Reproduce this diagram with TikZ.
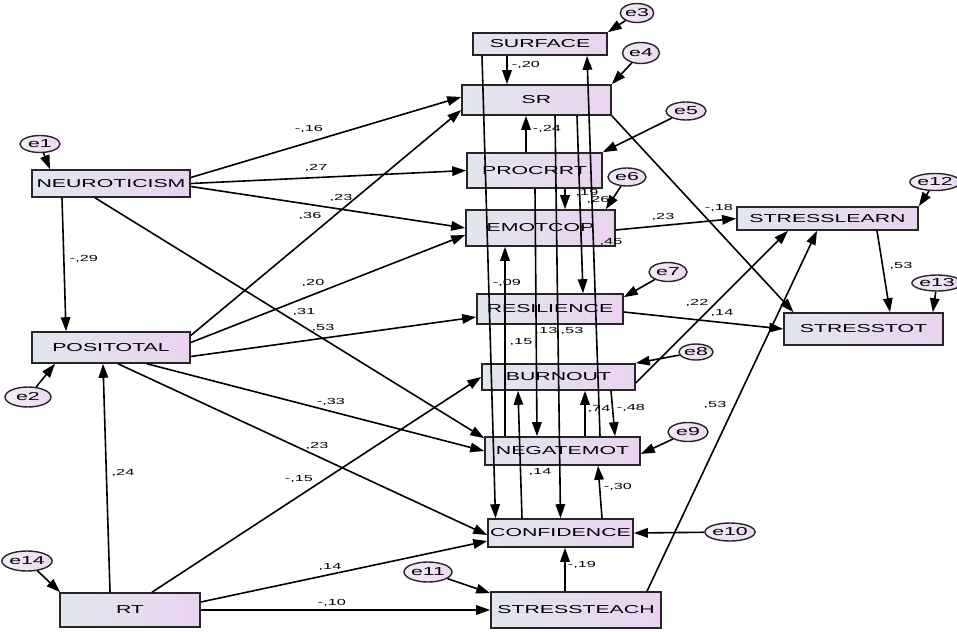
\documentclass[tikz,border=0pt]{standalone}
\usepackage{fontspec}
\setmainfont{Liberation Sans}[FakeStretch=1.85]
\usepackage{tikz}
\usetikzlibrary{arrows.meta,shapes.geometric}

\definecolor{boxleft}{HTML}{E2E6EE}
\definecolor{boxright}{HTML}{EAD3F0}
\definecolor{errfill}{HTML}{EBD8F1}

\tikzset{
  every variable/.style={rectangle, draw=black!85, line width=1.6pt,
    left color=boxleft, right color=boxright, inner sep=0pt,
    font=\fontsize{11.5}{13}\selectfont},
  every error/.style={ellipse, draw=black!85, line width=1.4pt,
    left color=white!50!errfill, right color=errfill, inner sep=0pt,
    font=\fontsize{11.5}{13}\selectfont},
  coef/.style={inner sep=0pt, font=\fontsize{8.8}{10}\selectfont}
}

\begin{document}
\begin{tikzpicture}[x=1pt, y=-1pt, line width=1.6pt,
  >={Triangle[length=14pt,width=9.5pt]}]
\useasboundingbox (0,0) rectangle (957,631);

\foreach \n/\t/\x/\y/\w/\h in {
    surface/SURFACE/540/44/134/22,
    sr/SR/536.5/100/149/30,
    procrrt/PROCRRT/534.5/170.5/135/35,
    emotcop/EMOTCOP/540.5/228/149/36,
    resilience/RESILIENCE/550/309/146/30,
    burnout/BURNOUT/558.5/377/153/26,
    negatemot/NEGATEMOT/562.5/451/155/28,
    confidence/CONFIDENCE/560.5/533/145/28,
    stressteach/STRESSTEACH/576/610/170/36,
    neuro/NEUROTICISM/111/183.5/158/27,
    positotal/POSITOTAL/111/347.5/158/31,
    rt/RT/130/610/140/34,
    stresslearn/STRESSLEARN/827.5/218.5/181/23,
    stresstot/STRESSTOT/863.5/329/159/32}
  \node [every variable/.try, minimum width=\w pt, minimum height=\h pt]
    (\n) at (\x,\y) {\t};

\foreach \n/\x/\y/\w/\h in {
    1/40/144/40/17, 2/28/397/46/20, 3/637/13/33/19, 4/641/53/37/21,
    5/686/111/40/18, 6/627/177/38/18, 7/668/272/38/19, 8/696/352/34/16,
    9/688/432/40/19, 10/730/532/42/18, 11/428/572/48/20, 12/935/182/42/17,
    13/937/283/36/16, 14/27/561/50/20}
  \node [every error/.try, minimum width=\w pt, minimum height=\h pt]
    (e\n) at (\x,\y) {e\n};

% residuals
\draw [->] (e1) -- ([xshift=-61pt]neuro.north);
\draw [->] (e2) -- ([xshift=-56pt]positotal.south);
\draw [->] (e14) -- ([xshift=1pt]rt.north west);
\draw [->] (e3) -- (surface.north east);
\draw [->] (e4) -- (sr.north east);
\draw [->] (e5) -- (procrrt.north east);
\draw [->] (e6) -- ([xshift=-10pt]emotcop.north east);
\draw [->] (e7) -- ([yshift=-4pt]resilience.north east);
\draw [->] (e8) -- (burnout.north east);
\draw [->] (e9) -- ([yshift=-3pt]negatemot.east);
\draw [->] (e10) -- (confidence.east);
\draw [->] (e11) -- ([yshift=-2pt]stressteach.north west);
\draw [->] (e12) -- (stresslearn.north east);
\draw [->] (e13) -- ([xshift=-11pt]stresstot.north east);

% exogenous paths
\draw [->] ([xshift=-49pt]neuro.south) -- ([xshift=-45pt]positotal.north);
\draw [->] ([xshift=-20pt]rt.north) -- ([xshift=-8pt]positotal.south);
\draw [->] ([yshift=6pt]neuro.east) -- ([yshift=3pt]sr.west);
\draw [->] (neuro.east) -- (procrrt.west);
\draw [->] ([yshift=-3pt]neuro.east) -- (emotcop.west);
\draw [->] ([xshift=-16pt]neuro.south) -- ([yshift=-2pt]negatemot.north west);
\draw [->] ([yshift=12pt]positotal.east) -- ([yshift=-10pt]sr.west);
\draw [->] ([yshift=5pt]positotal.east) -- ([yshift=-7pt]emotcop.west);
\draw [->] ([yshift=-9pt]positotal.east) -- ([yshift=-8pt]resilience.west);
\draw [->] ([xshift=36pt]positotal.south) -- (negatemot.west);
\draw [->] ([xshift=7pt]positotal.south) -- ([yshift=-2pt]confidence.west);
\draw [->] ([xshift=22pt]rt.north) -- (burnout.west);
\draw [->] ([yshift=8pt]rt.east) -- ([yshift=-8pt]confidence.west);
\draw [->] (rt.east) -- (stressteach.west);

% middle column
\draw [->] ([xshift=-33pt]surface.south) -- ([xshift=-29.5pt]sr.north);
\draw [->] ([xshift=-58pt]surface.south) -- ([xshift=-65pt]confidence.north);
\draw [->] ([xshift=37.5pt]negatemot.north) -- ([xshift=47pt]surface.south);
\draw [->] ([xshift=-8.5pt]procrrt.north) -- ([xshift=-10.5pt]sr.south);
\draw [->] ([xshift=40.5pt]sr.south) -- ([xshift=33pt]resilience.north);
\draw [->] ([xshift=18.5pt]sr.south) -- (confidence.north);
\draw [->] ([xshift=30.5pt]procrrt.south) -- ([xshift=24.5pt]emotcop.north);
\draw [->] ([xshift=0.5pt]procrrt.south) -- ([xshift=-25.5pt]negatemot.north);
\draw [->] ([xshift=-57.5pt]negatemot.north) -- ([xshift=-35.5pt]emotcop.south);
\draw [->] ([xshift=-38.5pt]confidence.north) -- ([xshift=-40.5pt]burnout.south);
\draw [->] ([xshift=22.5pt]negatemot.north) -- ([xshift=26.5pt]burnout.south);
\draw [->] ([xshift=52.5pt]burnout.south) -- ([xshift=52.5pt]negatemot.north);
\draw [->] ([xshift=41.5pt]confidence.north) -- ([xshift=35.5pt]negatemot.south);
\draw [->] ([xshift=-11pt]stressteach.north) -- ([xshift=4.5pt]confidence.south);

% stress outcomes
\draw [->] ([xshift=71pt]stressteach.north) -- ([xshift=-10.5pt]stresslearn.south);
\draw [->] ([yshift=-6pt]burnout.east) -- ([xshift=-39.5pt]stresslearn.south);
\draw [->] ([yshift=-3pt]resilience.east) -- (stresstot.west);
\draw [->] ([yshift=-2pt]emotcop.east) -- (stresslearn.west);
\draw [->] (sr.south east) -- ([xshift=-70pt]stresstot.north);
\draw [->] ([xshift=49.5pt]stresslearn.south) -- ([xshift=26.5pt]stresstot.north);

% coefficients
\foreach \l/\x/\y [count=\i] in {
    {-,29}/84/259, {,24}/123/473, {-,16}/309/129, {,27}/316/168,
    {,23}/341/198, {,31}/304/312, {,36}/310/216, {,20}/313/283,
    {,53}/323/328, {-,33}/331/402, {,23}/317/446, {-,15}/299/479,
    {,14}/330/567, {-,10}/332/603, {-,20}/526/65, {-,09}/507/283,
    {,45}/611/242, {-,24}/547/129, {,26}/598/200, {,53}/572/331,
    {,19}/587/193, {,13}/546/331, {,15}/521/342, {,14}/540/472,
    {,74}/599/409, {-,48}/631/408, {-,30}/618/487, {-,19}/582/565,
    {,53}/715/405, {,22}/697/303, {,14}/722/313, {,23}/663/217,
    {-,18}/719/208, {,53}/901/266}
  \node [coef] (c-\i) at (\x,\y) {\l};
\end{tikzpicture}
\end{document}
